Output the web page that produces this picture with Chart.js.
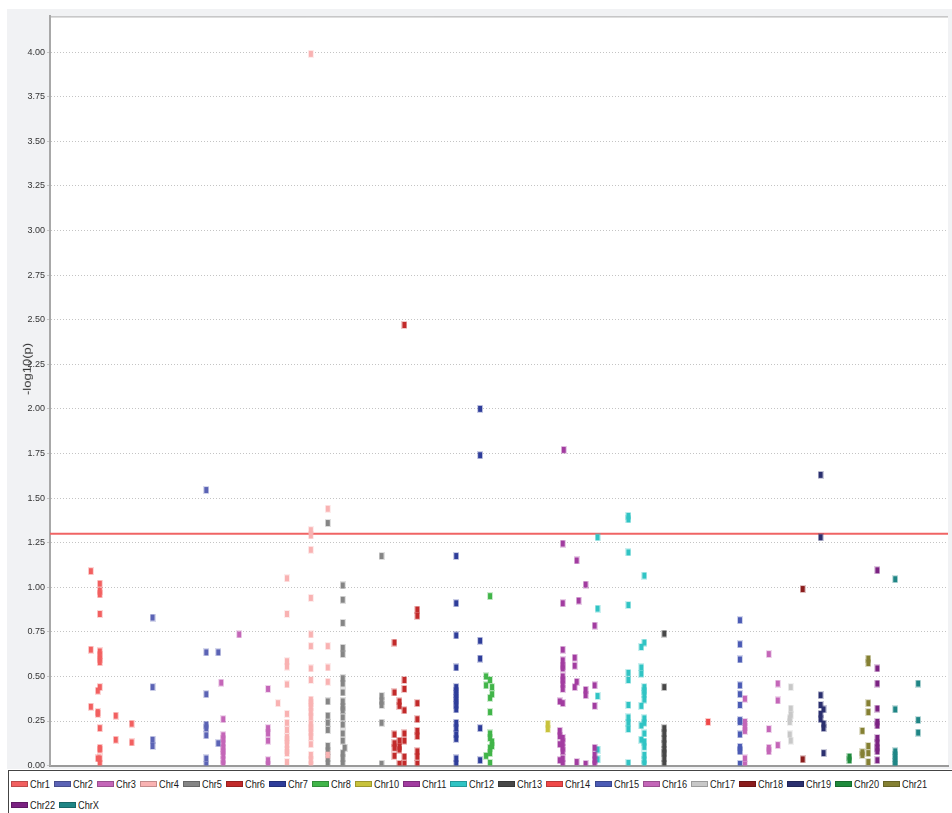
<!DOCTYPE html>
<html><head><meta charset="utf-8">
<script src="https://cdn.jsdelivr.net/npm/chart.js@4.4.1/dist/chart.umd.min.js"></script>
<style>
body{margin:0;background:#fff;width:952px;height:813px;overflow:hidden;position:relative;font-family:'Liberation Sans',Arial,sans-serif;}
#panel{position:absolute;left:7px;top:9px;width:945px;height:760px;background:#f1f2f4;}
#c{position:absolute;left:7px;top:9px;}
#ylab{position:absolute;left:27px;top:369px;transform:translate(-50%,-50%) rotate(-90deg) scaleY(0.82);font-size:13px;color:#333;white-space:nowrap;}
#legend{position:absolute;left:8px;top:770px;width:960px;height:44px;border:1px solid #444;box-sizing:border-box;background:#fff;display:flex;flex-wrap:wrap;align-content:flex-start;padding:2px 0 0 2px;}
.item{display:flex;align-items:center;height:21px;font-size:11.5px;color:#1a1a1a;margin-right:4px;}
.sw{width:17px;height:6px;margin-right:2px;box-sizing:border-box;border:1px solid rgba(0,0,0,0.22);}
.tx{display:inline-block;transform:scaleX(0.8);transform-origin:0 50%;}
.brk{flex-basis:100%;height:0;}
</style>
</head><body>
<div id="panel"></div>
<canvas id="c" width="945" height="764"></canvas>
<div id="ylab">-log10(p)</div>
<div id="legend"></div>
<script>
// ---- Data (position along genome, -log10(p)) ----
const chromosomes = ['Chr1','Chr2','Chr3','Chr4','Chr5','Chr6','Chr7','Chr8','Chr10','Chr11','Chr12','Chr13','Chr14','Chr15','Chr16','Chr17','Chr18','Chr19','Chr20','Chr21','Chr22','ChrX'];
const yTicks = [0,0.25,0.5,0.75,1,1.25,1.5,1.75,2,2.25,2.5,2.75,3,3.25,3.5,3.75,4];
const threshold = 1.30;
const positionRange = [0, 902];
const yRange = [0, 4.2];

const chr1 = [[41,1.09],[41,0.65],[41,0.33],[50,1.02],[50,0.98],[50,0.96],[50,0.85],[50,0.64],[50,0.62],[50,0.60],[50,0.58],[50,0.44],[50,0.21],[50,0.10],[50,0.09],[50,0.04],[50,0.01],[48,0.42],[48,0.30],[48,0.29],[48,0.04],[66,0.28],[66,0.145],[82,0.235],[82,0.13]];
const chr2 = [[103,0.83],[103,0.44],[103,0.145],[103,0.11],[157,1.545],[157,0.635],[157,0.40],[157,0.23],[157,0.21],[157,0.17],[157,0.04],[157,0.005],[169,0.635],[169,0.125]];
const chr3 = [[190,0.735],[172,0.465],[174,0.26],[174,0.17],[174,0.15],[174,0.125],[174,0.10],[174,0.08],[174,0.06],[174,0.03],[174,0.01],[219,0.43],[219,0.21],[219,0.18],[219,0.14],[219,0.03],[219,0.005]];
const chr4 = [[238,1.05],[238,0.85],[238,0.585],[238,0.555],[238,0.455],[238,0.29],[238,0.24],[238,0.20],[238,0.16],[238,0.145],[238,0.12],[238,0.09],[238,0.07],[238,0.02],[229,0.35],[262,3.99],[262,1.32],[262,1.29],[262,1.21],[262,0.94],[262,0.735],[262,0.67],[262,0.545],[262,0.48],[262,0.37],[262,0.35],[262,0.33],[262,0.30],[262,0.27],[262,0.235],[262,0.21],[262,0.19],[262,0.16],[262,0.12],[262,0.06],[262,0.03],[262,0.005],[279,1.44],[279,0.67],[279,0.55],[279,0.47],[279,0.06]];
const chr5 = [[279,1.36],[279,0.36],[279,0.28],[279,0.24],[279,0.20],[279,0.11],[279,0.08],[279,0.04],[279,0.01],[294,1.01],[294,0.93],[294,0.80],[294,0.66],[294,0.625],[294,0.49],[294,0.46],[294,0.41],[294,0.36],[294,0.33],[294,0.31],[294,0.27],[294,0.23],[294,0.18],[294,0.14],[294,0.07],[294,0.04],[294,0.01],[296,0.10],[333,1.175],[333,0.39],[333,0.36],[333,0.34],[333,0.24],[333,0.01]];
const chr6 = [[356,2.47],[356,0.48],[356,0.43],[356,0.31],[356,0.18],[356,0.14],[356,0.05],[356,0.01],[346,0.69],[346,0.41],[346,0.175],[346,0.125],[346,0.10],[346,0.055],[351,0.36],[351,0.335],[351,0.14],[351,0.105],[351,0.09],[351,0.01],[369,0.875],[369,0.84],[369,0.35],[369,0.26],[369,0.195],[369,0.165],[369,0.08],[369,0.05],[369,0.01]];
const chr7 = [[408,1.175],[408,0.91],[408,0.73],[408,0.55],[408,0.44],[408,0.42],[408,0.40],[408,0.38],[408,0.36],[408,0.34],[408,0.315],[408,0.24],[408,0.21],[408,0.175],[408,0.15],[408,0.04],[408,0.01],[432,2.0],[432,1.74],[432,0.70],[432,0.60],[432,0.21],[432,0.03]];
const chr8 = [[442,0.95],[442,0.48],[442,0.38],[442,0.30],[442,0.18],[442,0.155],[442,0.10],[442,0.07],[442,0.015],[438,0.50],[438,0.45],[438,0.055],[444,0.44],[444,0.40],[444,0.135],[444,0.11]];
const chr10 = [[500,0.235],[500,0.205]];
const chr11 = [[516,1.77],[515,1.245],[515,0.91],[515,0.65],[515,0.59],[515,0.56],[515,0.545],[515,0.50],[515,0.48],[515,0.46],[515,0.43],[515,0.35],[515,0.155],[515,0.13],[515,0.10],[515,0.08],[515,0.04],[515,0.01],[512,0.36],[512,0.195],[512,0.165],[512,0.12],[512,0.03],[529,1.15],[529,0.47],[529,0.02],[531,0.925],[527,0.605],[527,0.56],[527,0.44],[538,1.015],[538,0.425],[538,0.395],[538,0.01],[547,0.785],[547,0.45],[547,0.335],[547,0.10],[547,0.06],[547,0.03],[547,0.01]];
const chr12 = [[550,1.28],[550,0.88],[550,0.39],[550,0.09],[550,0.035],[581,1.40],[581,1.38],[581,1.195],[581,0.90],[581,0.52],[581,0.48],[581,0.34],[581,0.27],[581,0.24],[581,0.205],[581,0.015],[597,1.065],[597,0.69],[597,0.44],[597,0.42],[597,0.40],[597,0.37],[597,0.265],[597,0.24],[597,0.18],[597,0.135],[597,0.105],[597,0.06],[597,0.03],[597,0.01],[594,0.665],[594,0.55],[594,0.515],[594,0.335],[594,0.225],[594,0.145]];
const chr13 = [[617,0.74],[617,0.44],[617,0.21],[617,0.18],[617,0.15],[617,0.12],[617,0.09],[617,0.07],[617,0.04],[617,0.01]];
const chr14 = [[661,0.245]];
const chr15 = [[693,0.815],[693,0.68],[693,0.595],[693,0.45],[693,0.40],[693,0.34],[693,0.255],[693,0.245],[693,0.175],[693,0.105],[693,0.09],[693,0.08],[693,0.01]];
const chr16 = [[722,0.625],[722,0.205],[722,0.10],[722,0.08],[731,0.46],[731,0.365],[731,0.115],[698,0.375],[698,0.245],[698,0.215],[698,0.195],[698,0.04],[698,0.005]];
const chr17 = [[744,0.44],[744,0.32],[744,0.285],[743,0.265],[743,0.245],[743,0.175],[744,0.14]];
const chr18 = [[756,0.99],[756,0.035]];
const chr19 = [[774,1.63],[774,1.28],[774,0.395],[774,0.34],[774,0.29],[774,0.26],[777,0.315],[777,0.235],[777,0.21],[777,0.07]];
const chr20 = [[803,0.05],[803,0.03]];
const chr21 = [[822,0.60],[822,0.575],[822,0.35],[822,0.30],[822,0.11],[822,0.07],[822,0.02],[816,0.195],[816,0.075],[816,0.06]];
const chr22 = [[831,1.095],[831,0.545],[831,0.46],[831,0.32],[831,0.245],[831,0.225],[831,0.155],[831,0.125],[831,0.10],[831,0.08],[831,0.03]];
const chrX = [[849,1.045],[849,0.315],[849,0.08],[849,0.06],[849,0.04],[849,0.02],[849,0.005],[872,0.46],[872,0.255],[872,0.185]];

const seriesData = [chr1,chr2,chr3,chr4,chr5,chr6,chr7,chr8,chr10,chr11,chr12,chr13,chr14,chr15,chr16,chr17,chr18,chr19,chr20,chr21,chr22,chrX];

// ---- Styles ----
const colors = ['#f26060','#5b63b5','#c466b8','#f9b2b2','#858585','#c22a2a','#2e3d9a','#41b549','#c8c23c','#a23ca0','#30c4c4','#474747','#f04848','#4b5bb5','#c466b8','#c8c8c8','#8b1c1c','#2b306f','#1e8a3c','#858033','#7b2282','#1f8585'];
const FONT = "'Liberation Sans',Arial,sans-serif";

function marker(color){
  const m = document.createElement('canvas');
  m.width = 6; m.height = 8;
  const g = m.getContext('2d');
  g.globalAlpha = 0.25; g.fillStyle = color; g.fillRect(0,0,6,8);
  g.globalAlpha = 1; g.fillRect(1,1,4,6);
  return m;
}

const datasets = seriesData.map((pts,i)=>({
  type:'scatter', label: chromosomes[i],
  data: pts.map(([p,v])=>({x:p,y:v})),
  pointStyle: marker(colors[i]), pointRadius: 3, pointHoverRadius: 3,
  backgroundColor: colors[i], borderColor: colors[i]
}));
datasets.push({
  type:'line', label:'threshold',
  data:[{x:positionRange[0],y:threshold},{x:positionRange[1],y:threshold}],
  borderColor:'#f06464', borderWidth:2, pointRadius:0, fill:false
});

const areaPlugin = {
  id:'area',
  beforeDraw(chart){
    const {ctx, chartArea:a} = chart;
    ctx.save();
    ctx.fillStyle = '#ffffff';
    ctx.fillRect(a.left, a.top, a.right-a.left, a.bottom-a.top);
    ctx.strokeStyle = '#a8a8a8'; ctx.lineWidth = 1;
    ctx.beginPath(); ctx.moveTo(a.left, a.top+0.5); ctx.lineTo(a.right, a.top+0.5); ctx.stroke();
    ctx.restore();
  }
};

Chart.defaults.font.family = FONT;
new Chart(document.getElementById('c'), {
  type:'scatter',
  data:{datasets},
  options:{
    responsive:false, animation:false,
    layout:{padding:{top:7,left:0,right:0,bottom:0}},
    plugins:{legend:{display:false}, tooltip:{enabled:false}},
    scales:{
      x:{type:'linear', min:positionRange[0], max:positionRange[1],
         grid:{display:false}, ticks:{display:false},
         border:{display:true, color:'#9a9a9a', width:2},
         afterFit(s){ s.height = 5; }},
      y:{min:yRange[0], max:yRange[1],
         afterBuildTicks(s){ s.ticks = yTicks.map(v=>({value:v})); },
         ticks:{callback:v=>Number(v).toFixed(2), font:{size:9, family:FONT}, color:'#333', padding:2},
         grid:{color:'#c4c4c4', tickLength:3, lineWidth:1},
         border:{display:true, color:'#a8a8a8', width:2, dash:[1,2]},
         afterFit(s){ s.width = 43; }}
    }
  },
  plugins:[areaPlugin]
});

// ---- Legend ----
const lg = document.getElementById('legend');
chromosomes.forEach((name,i)=>{
  if(name==='Chr22'){ const b=document.createElement('div'); b.className='brk'; lg.appendChild(b); }
  const it = document.createElement('div'); it.className='item';
  const sw = document.createElement('span'); sw.className='sw'; sw.style.background=colors[i];
  const tx = document.createElement('span'); tx.className='tx'; tx.textContent=name;
  it.appendChild(sw); it.appendChild(tx); lg.appendChild(it);
  tx.style.marginRight = (-tx.offsetWidth*0.2)+'px';
});
</script>
</body></html>
